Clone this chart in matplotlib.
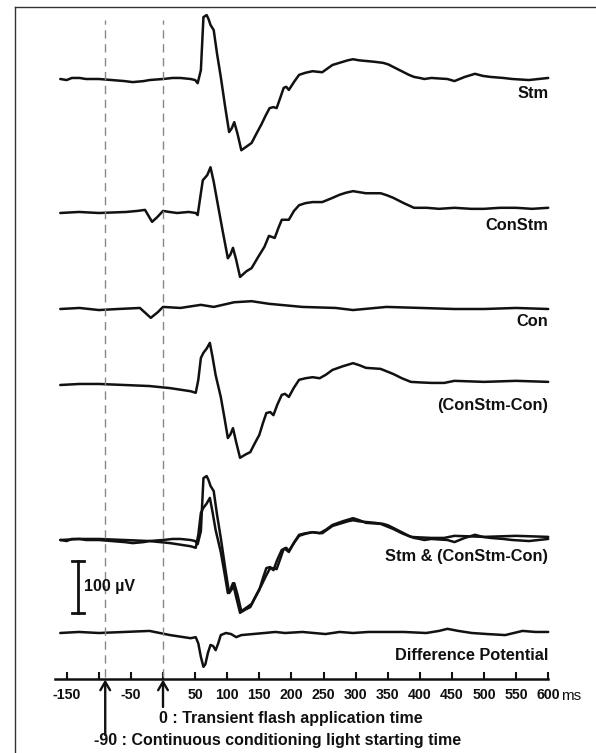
import matplotlib
matplotlib.use("Agg")
import matplotlib.pyplot as plt
from matplotlib.lines import Line2D

plt.rcParams['font.family'] = ['Liberation Sans', 'DejaVu Sans']
plt.rcParams['axes.unicode_minus'] = False

# ---------------- data (time in ms, amplitude in µV) ----------------
stm_t = [-160, -150, -142, -130, -120, -100, -80, -60, -47, -30, -21, 0, 15, 27, 43, 50, 54, 59,
         63, 68, 71, 74, 79, 84, 90, 97, 103, 107, 111, 116, 122, 130, 138, 146, 153, 160, 166,
         172, 177, 183, 188, 192, 196, 205, 212, 222, 233, 240, 248, 256, 264, 272, 280, 288,
         296, 305, 313, 322, 330, 343, 351, 359, 367, 375, 383, 391, 400, 407, 418, 430, 443,
         454, 470, 486, 498, 510, 530, 544, 570, 600]
stm_v = [0, -2, 2, 2, 0, 0, -2, -4, -6, -4, -2, 0, 2, 2, 0, -2, -8, 17,
         119, 123, 115, 104, 94, 50, 4, -55, -102, -95, -83, -105, -137, -130, -123, -104, -88, -70, -56,
         -54, -56, -35, -17, -15, -21, -4, 8, 12, 15, 14, 13, 20, 27, 30, 33, 36,
         38, 36, 35, 34, 33, 31, 28, 23, 18, 13, 8, 4, 2, 0, 2, 1, 0,
         -4, 4, 10, 6, 4, 2, 0, -2, 2]

constm_t = [-160, -131, -100, -57, -40, -28, -17, -9, 0, 10, 22, 40, 51, 54, 58, 62, 69, 74,
            79, 85, 93, 101, 105, 109, 114, 120, 130, 138, 148, 158, 165, 174, 180, 185, 196,
            204, 212, 222, 233, 248, 262, 275, 285, 296, 306, 316, 328, 339, 349, 359, 375,
            391, 411, 430, 454, 480, 500, 525, 550, 575, 600]
constm_v = [0, 2, 0, 2, 4, 6, -17, -8, 4, 2, 0, 2, 0, -4, 30, 63, 73, 88,
            60, 19, -35, -87, -80, -67, -90, -123, -112, -106, -85, -65, -44, -48, -28, -13, -13,
            4, 15, 19, 21, 21, 28, 35, 39, 42, 40, 38, 38, 38, 34, 29, 19,
            10, 10, 8, 10, 8, 8, 10, 10, 8, 10]

con_t = [-160, -130, -100, -70, -36, -19, -8, 0, 27, 59, 79, 111, 138, 165, 217,
         269, 296, 348, 402, 454, 500, 550, 600]
con_v = [0, 2, -2, 0, 2, -17, -6, 4, 2, 8, 4, 13, 15, 10, 4,
         2, -2, 4, 2, 0, 0, 2, 0]

diff_cc_t = [-160, -130, -100, -60, -21, 11, 43, 51, 55, 59, 63, 68, 73, 77, 82, 90, 96, 101,
             105, 109, 114, 120, 128, 136, 143, 150, 156, 161, 167, 172, 178, 185, 190, 196,
             204, 212, 222, 233, 244, 254, 264, 280, 296, 306, 316, 339, 359, 372, 386, 400,
             418, 438, 454, 500, 550, 600]
diff_cc_v = [0, 2, 2, 0, -2, -6, -12, -15, 10, 52, 62, 70, 81, 55, 19, -23, -65, -102,
             -95, -83, -110, -140, -134, -129, -112, -96, -72, -54, -52, -58, -38, -19, -17, -23,
             -5, 10, 13, 15, 13, 20, 29, 36, 42, 38, 33, 31, 21, 13, 6, 5,
             4, 4, 8, 6, 8, 6]

dp_t = [-160, -131, -100, -60, -21, 11, 43, 51, 55, 59, 63, 66, 70, 74, 78, 82, 86, 90,
        98, 106, 114, 122, 140, 158, 175, 190, 217, 235, 253, 275, 296, 320, 340, 375,
        410, 430, 443, 460, 481, 505, 533, 560, 580, 600]
dp_v = [0, 2, 0, 2, 4, -4, -10, -8, -20, -46, -65, -60, -38, -23, -25, -33, -20, -4,
        0, -2, -8, -4, -2, 0, 2, 0, 2, 0, -2, 2, 0, 2, 2, 2,
        0, 4, 8, 4, 0, -2, -4, 4, 2, 2]

tick_values = list(range(-150, 601, 50))
tick_labels = ['' if v in (-100, 0) else str(v) for v in tick_values]
event_times = [-90, 0]
scale_uv = 100

# ---------------- layout ----------------
PX_PER_MS = 0.642
T0_PX = 163
UV_PER_PX = 1.923
W, H = 596, 753

def ypx(py):
    return (H - py) * UV_PER_PX

def xpx(px):
    return (px - T0_PX) / PX_PER_MS

offsets = {
    'Stm': ypx(79), 'ConStm': ypx(213), 'Con': ypx(309),
    'CSC': ypx(385), 'Both': ypx(540), 'Diff': ypx(633),
}
axis_y = ypx(679)

fig = plt.figure(figsize=(W / 100, H / 100), dpi=100)
ax = fig.add_axes([0, 0, 1, 1])
ax.set_xlim(xpx(0), xpx(W))
ax.set_ylim(0, H * UV_PER_PX)

lw = 1.8
col = '#111111'

def tr(t, v, off):
    ax.plot(t, [x + off for x in v], color=col, lw=lw, solid_joinstyle='round',
            solid_capstyle='round')

tr(stm_t, stm_v, offsets['Stm'])
tr(constm_t, constm_v, offsets['ConStm'])
tr(con_t, con_v, offsets['Con'])
tr(diff_cc_t, diff_cc_v, offsets['CSC'])
tr(stm_t, stm_v, offsets['Both'])
tr(diff_cc_t, diff_cc_v, offsets['Both'])
tr(dp_t, dp_v, offsets['Diff'])

# dashed event lines
for et in event_times:
    ax.plot([et, et], [axis_y + 3, ypx(20)], color='#888888', lw=1.0,
            dashes=(6, 4))

# labels
lab_x = 600
lab_kw = dict(ha='right', va='center', fontsize=11.8, fontweight='bold', color=col)
ax.text(lab_x, ypx(93), 'Stm', **lab_kw)
ax.text(lab_x, ypx(225), 'ConStm', **lab_kw)
ax.text(lab_x, ypx(322), 'Con', **lab_kw)
ax.text(lab_x, ypx(406), '(ConStm-Con)', **lab_kw)
ax.text(lab_x, ypx(557), 'Stm & (ConStm-Con)', **lab_kw)
ax.text(lab_x, ypx(655), 'Difference Potential', **lab_kw)

# scale bar
sb_x = xpx(78)
sb_bot = ypx(613)
ax.plot([sb_x, sb_x], [sb_bot, sb_bot + scale_uv], color=col, lw=2.0)
cap = 6 / PX_PER_MS
for yy in (sb_bot, sb_bot + scale_uv):
    ax.plot([sb_x - cap, sb_x + cap], [yy, yy], color=col, lw=2.0)
ax.text(xpx(84), sb_bot + scale_uv / 2, '100 µV',
        ha='left', va='center', fontsize=11.5, fontweight='bold', color=col)

# time axis
for s in ('top', 'right', 'left'):
    ax.spines[s].set_visible(False)
ax.spines['bottom'].set_position(('data', axis_y))
ax.spines['bottom'].set_bounds(-168, 600)
ax.spines['bottom'].set_linewidth(1.8)
ax.spines['bottom'].set_color(col)
ax.set_xticks(tick_values)
ax.set_xticklabels(tick_labels, fontweight='bold')
ax.tick_params(axis='x', direction='in', length=5, width=1.5, pad=6.5,
               labelsize=10.2, colors=col)
ax.set_yticks([])
ax.text(xpx(561), ypx(696), 'ms', ha='left', va='center',
        fontsize=11, color=col)

# arrows
for et, start in ((-90, 735), (0, 707)):
    ax.annotate('', xy=(et, axis_y - 1), xytext=(et, ypx(start)),
                arrowprops=dict(arrowstyle='->,head_length=0.6,head_width=0.35',
                                lw=1.7, color=col, shrinkA=0, shrinkB=0))
ax.text(xpx(159), ypx(718), '0 : Transient flash application time',
        ha='left', va='center', fontsize=11.5, fontweight='bold', color=col)
ax.text(xpx(94), ypx(741),
        '-90 : Continuous conditioning light starting time',
        ha='left', va='center', fontsize=11.5, fontweight='bold', color=col)

# outer frame (cropped at right/bottom)
fig.add_artist(Line2D([15 / W, 15 / W], [0, 1 - 7 / H], transform=fig.transFigure,
                      color='#333333', lw=1.0))
fig.add_artist(Line2D([15 / W, 1], [1 - 7 / H, 1 - 7 / H], transform=fig.transFigure,
                      color='#333333', lw=1.0))

fig.savefig('out.png', dpi=100)
